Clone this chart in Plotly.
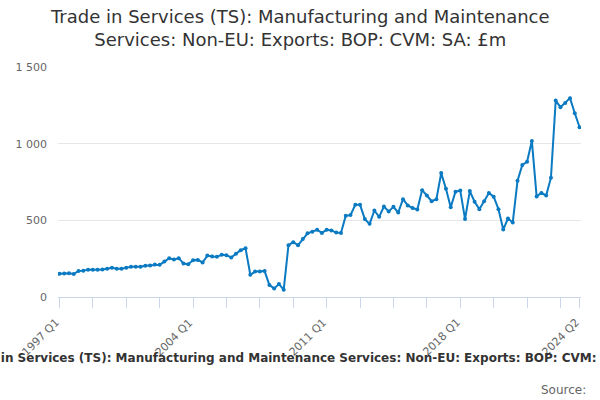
import plotly.graph_objects as go

TITLE = "Trade in Services (TS): Manufacturing and Maintenance<br>Services: Non-EU: Exports: BOP: CVM: SA: £m"
AXIS_TITLE = "Trade in Services (TS): Manufacturing and Maintenance Services: Non-EU: Exports: BOP: CVM: SA: £m"

quarters = [f"{y} Q{q}" for y in range(1997, 2025) for q in range(1, 5)][:110]

values = [
    151, 153, 155, 150, 170, 172, 178, 178, 178, 180,
    184, 190, 184, 184, 190, 197, 197, 197, 204, 206,
    212, 210, 231, 253, 245, 253, 218, 214, 240, 242,
    225, 270, 264, 262, 275, 273, 258, 282, 305, 318,
    145, 166, 166, 169, 78, 56, 84, 48, 338, 357,
    338, 379, 415, 426, 438, 418, 438, 434, 420, 418,
    530, 534, 601, 601, 508, 477, 564, 523, 590, 558,
    588, 551, 638, 597, 580, 571, 697, 662, 625, 638,
    808, 706, 586, 686, 695, 508, 691, 621, 573, 625,
    678, 654, 573, 440, 512, 486, 758, 861, 882, 1018,
    656, 678, 662, 778, 1281, 1238, 1266, 1297, 1198, 1107,
]

# ticks every 7 quarters, labels every 28, plus the last quarter
tick_idx = list(range(0, len(quarters), 7)) + [len(quarters) - 1]
tick_vals = [quarters[i] for i in tick_idx]
label_vals = [quarters[i] for i in tick_idx if i % 28 == 0 or i == len(quarters) - 1]

y_vals = [0, 500, 1000, 1500]
y_text = ["0", "500", "1 000", "1 500"]

fig = go.Figure()
fig.add_trace(go.Scatter(
    x=quarters, y=values, mode="lines+markers",
    line=dict(color="#0a7ac2", width=2),
    marker=dict(color="#0a7ac2", size=4),
    showlegend=False,
))

fig.update_layout(
    width=600, height=400,
    margin=dict(l=58, r=19, t=67, b=103),
    paper_bgcolor="white", plot_bgcolor="white",
    font=dict(family="DejaVu Sans", color="#333333"),
)
fig.update_xaxes(
    type="category", tickmode="array", tickvals=tick_vals, ticktext=[""] * len(tick_vals),
    ticks="outside", ticklen=10, tickcolor="#ccd6eb",
    showline=True, linecolor="#ccd6eb", linewidth=1, showgrid=False,
    automargin=False, range=[-0.3, len(quarters) - 0.7],
)
fig.update_yaxes(
    range=[0, 1500], tickmode="array", tickvals=y_vals, ticktext=y_text,
    showgrid=True, gridcolor="#e6e6e6", zeroline=False, showline=False,
    tickfont=dict(size=11, color="#666666"), ticklabelstandoff=10, automargin=False,
)

# rotated x tick labels
for q in label_vals:
    fig.add_annotation(text=q, x=q, xref="x", yref="paper", y=-0.07,
                       xanchor="right", yanchor="top", textangle=-45, showarrow=False,
                       xshift=5, font=dict(size=11, color="#666666"))

# chart title
fig.add_annotation(text=TITLE, xref="paper", yref="paper", x=0.462, y=1.17,
                   xanchor="center", yanchor="middle", showarrow=False,
                   font=dict(size=18, color="#333333"))
# x axis title (wider than the chart, clipped at both edges)
fig.add_annotation(text="<b>" + AXIS_TITLE + "</b>", xref="paper", yref="paper",
                   x=0.47, y=-0.265, xanchor="center", yanchor="middle", showarrow=False,
                   font=dict(size=12, color="#333333"))
fig.add_annotation(text="Source:", xref="paper", yref="paper", x=1.013, y=-0.404,
                   xanchor="right", yanchor="middle", showarrow=False,
                   font=dict(size=12, color="#666666"))

fig.write_html("out.html", config={"displayModeBar": False},
               post_script="document.body.style.margin='0';")
